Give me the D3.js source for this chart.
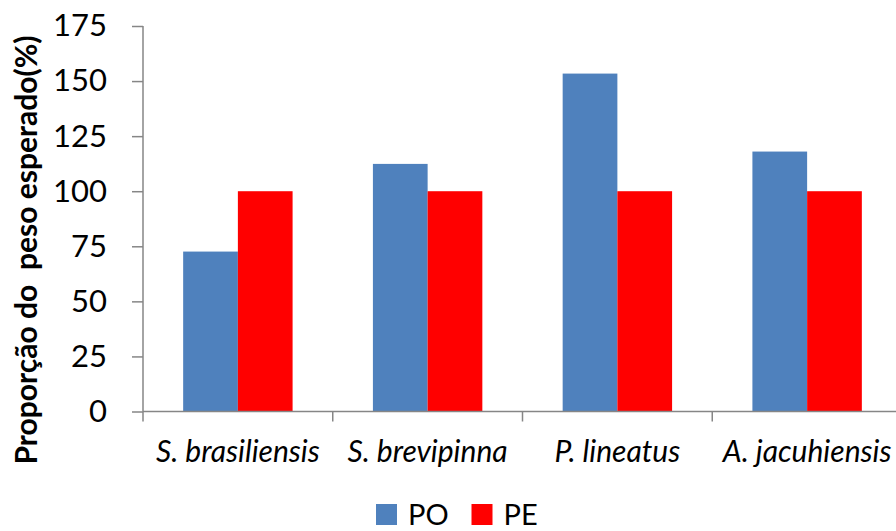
<!DOCTYPE html>
<html>
<head>
<meta charset="utf-8">
<script src="https://cdn.jsdelivr.net/npm/d3@7"></script>
<style>
  html, body { margin: 0; padding: 0; background: #fff; }
  svg { display: block; }
  text { font-family: Lato, "Open Sans", sans-serif; fill: #000; }
</style>
</head>
<body>
<svg id="chart" width="896" height="531"></svg>
<script>
// Species and relative weight (% of expected weight)
const categories = ["S. brasiliensis", "S. brevipinna", "P. lineatus", "A. jacuhiensis"];
const seriesNames = ["PO", "PE"];
const poValues = [72.6, 112.4, 153.4, 118.0];
const peValues = [100, 100, 100, 100];
const yTicks = [0, 25, 50, 75, 100, 125, 150, 175];
const colors = { PO: "#4F81BD", PE: "#FF0000" };

const data = categories.map((c, i) => ({ cat: c, PO: poValues[i], PE: peValues[i] }));

const svg = d3.select("#chart");
const axisColor = "#868686";

const plot = { left: 143, right: 902, top: 26, bottom: 411.5 };

const x0 = d3.scaleBand().domain(categories).range([plot.left, plot.right]).padding(0);
const x1 = d3.scaleBand().domain(seriesNames).range([0, x0.bandwidth()])
  .paddingInner(0).paddingOuter(0.734);
const y = d3.scaleLinear().domain([0, 175]).range([plot.bottom, plot.top]);

// Bars
const groups = svg.append("g").selectAll("g").data(data).join("g")
  .attr("transform", d => `translate(${x0(d.cat)},0)`);
groups.selectAll("rect")
  .data(d => seriesNames.map(s => ({ s, v: d[s] })))
  .join("rect")
  .attr("x", d => x1(d.s))
  .attr("y", d => y(d.v))
  .attr("width", x1.bandwidth())
  .attr("height", d => y(0) - y(d.v))
  .attr("fill", d => colors[d.s]);

// Y axis
const yAxis = svg.append("g")
  .attr("transform", `translate(${plot.left},0)`)
  .call(d3.axisLeft(y).tickValues(yTicks).tickSize(11).tickPadding(25).tickFormat(d3.format("d")));
yAxis.select(".domain").attr("stroke", axisColor).attr("stroke-width", 1.5)
  .attr("d", `M0,${plot.top}V${plot.bottom}`);
yAxis.selectAll(".tick line").attr("stroke", axisColor).attr("stroke-width", 1.5);
yAxis.selectAll(".tick text")
  .style("font-size", "31px")
  .attr("fill", "#000");

// X axis: line at zero with ticks on category boundaries
const xAxis = svg.append("g").attr("transform", `translate(0,${plot.bottom})`);
xAxis.append("line")
  .attr("x1", plot.left).attr("x2", plot.right)
  .attr("stroke", axisColor).attr("stroke-width", 1.5);
const boundaries = categories.map(c => x0(c)).concat([plot.right]);
xAxis.selectAll("line.b").data(boundaries).join("line")
  .attr("class", "b")
  .attr("x1", d => d).attr("x2", d => d)
  .attr("y1", 0).attr("y2", 10)
  .attr("stroke", axisColor).attr("stroke-width", 1.5);
xAxis.selectAll("text").data(categories).join("text")
  .attr("x", d => x0(d) + x0.bandwidth() / 2)
  .attr("y", 50)
  .attr("text-anchor", "middle")
  .style("font-size", "30px")
  .style("font-style", "italic")
  .text(d => d);

// Y axis title
svg.append("text")
  .attr("transform", "translate(37,250) rotate(-90)")
  .attr("text-anchor", "middle")
  .style("font-size", "30px")
  .style("font-weight", "bold")
  .attr("xml:space", "preserve")
  .text("Proporção do  peso esperado(%)");

// Legend
const legendItems = [
  { s: "PO", x: 376 },
  { s: "PE", x: 471.5 }
];
const legend = svg.append("g");
legend.selectAll("rect").data(legendItems).join("rect")
  .attr("x", d => d.x).attr("y", 504)
  .attr("width", 21).attr("height", 21)
  .attr("fill", d => colors[d.s]);
legend.selectAll("text").data(legendItems).join("text")
  .attr("x", d => d.x + 32).attr("y", 524.5)
  .style("font-size", "29px")
  .text(d => d.s);
</script>
</body>
</html>
